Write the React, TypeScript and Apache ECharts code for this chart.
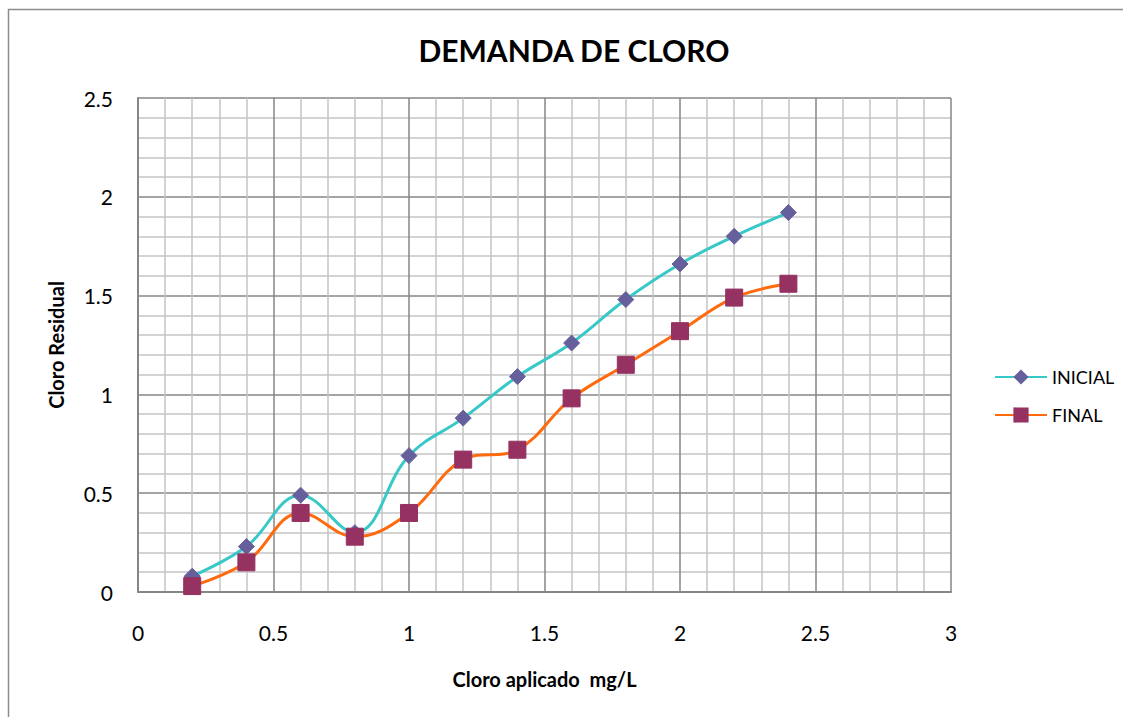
import React, { useEffect, useRef } from "react";
import * as echarts from "echarts";

const xValues = [0.2, 0.4, 0.6, 0.8, 1.0, 1.2, 1.4, 1.6, 1.8, 2.0, 2.2, 2.4];
const inicial = [0.08, 0.23, 0.49, 0.3, 0.69, 0.88, 1.09, 1.26, 1.48, 1.66, 1.8, 1.92];
const final = [0.03, 0.15, 0.4, 0.28, 0.4, 0.67, 0.72, 0.98, 1.15, 1.32, 1.49, 1.56];
const seriesNames = ["INICIAL", "FINAL"];
const titleText = "DEMANDA DE CLORO";
const xAxisName = "Cloro aplicado  mg/L";
const yAxisName = "Cloro Residual";

const FONT = "Lato, 'Open Sans', sans-serif";

export default function App() {
  const ref = useRef<HTMLDivElement>(null);
  useEffect(() => {
    if (!ref.current) return;
    const chart = echarts.init(ref.current, null, { renderer: "svg" });
    const pairs = (ys: number[]) => xValues.map((x, i) => [x, ys[i]]);
    chart.setOption({
      animation: false,
      backgroundColor: "#ffffff",
      textStyle: { fontFamily: FONT },
      title: {
        text: titleText,
        left: 569,
        textAlign: "center",
        top: 30,
        textStyle: { fontFamily: FONT, fontSize: 30, fontWeight: "bold", color: "#000" },
      },
      graphic: [
        {
          type: "rect",
          shape: { x: 8.5, y: 9.5, width: 1300, height: 900 },
          style: { fill: "none", stroke: "#8c8c8c", lineWidth: 1.5 },
          silent: true,
        },
      ],
      legend: {
        orient: "vertical",
        left: 989,
        top: 363,
        itemWidth: 52,
        itemHeight: 19,
        itemGap: 20,
        textStyle: { fontFamily: FONT, fontSize: 18, color: "#000" },
        data: seriesNames,
      },
      grid: { left: 138, top: 98, width: 813, height: 494, containLabel: false },
      xAxis: {
        type: "value",
        min: 0,
        max: 3,
        interval: 0.5,
        name: xAxisName,
        nameLocation: "middle",
        nameGap: 77,
        nameTextStyle: { fontFamily: FONT, fontSize: 20, fontWeight: "bold", color: "#000" },
        axisLine: { show: true, lineStyle: { color: "#868686", width: 2 } },
        axisTick: { show: false },
        axisLabel: { margin: 30, fontSize: 21, color: "#000", fontFamily: FONT },
        splitLine: { show: true, lineStyle: { color: "#868686", width: 1.5 } },
        minorTick: { show: false, splitNumber: 5 },
        minorSplitLine: { show: true, lineStyle: { color: "#c4c4c4", width: 1.5 } },
      },
      yAxis: {
        type: "value",
        min: 0,
        max: 2.5,
        interval: 0.5,
        name: yAxisName,
        nameLocation: "middle",
        nameGap: 72,
        nameRotate: 90,
        nameTextStyle: { fontFamily: FONT, fontSize: 20, fontWeight: "bold", color: "#000" },
        axisLine: { show: true, lineStyle: { color: "#868686", width: 2 } },
        axisTick: { show: false },
        axisLabel: { margin: 25, fontSize: 21, color: "#000", fontFamily: FONT },
        splitLine: { show: true, lineStyle: { color: "#868686", width: 1.5 } },
        minorTick: { show: false, splitNumber: 5 },
        minorSplitLine: { show: true, lineStyle: { color: "#c4c4c4", width: 1.5 } },
      },
      series: [
        {
          name: seriesNames[0],
          type: "line",
          data: pairs(inicial),
          smooth: 0.4,
          symbol: "diamond",
          symbolSize: 16,
          lineStyle: { color: "#38c8c8", width: 3 },
          itemStyle: { color: "#65609c", borderColor: "#65609c" },
          z: 3,
        },
        {
          name: seriesNames[1],
          type: "line",
          data: pairs(final),
          smooth: 0.4,
          symbol: "rect",
          symbolSize: 17,
          lineStyle: { color: "#ff6a0e", width: 3 },
          itemStyle: { color: "#953262", borderColor: "#953262" },
          z: 4,
        },
      ],
    });
    return () => chart.dispose();
  }, []);
  return (
    <div
      ref={ref}
      style={{ position: "fixed", left: 0, top: 0, width: 1123, height: 717 }}
    />
  );
}
